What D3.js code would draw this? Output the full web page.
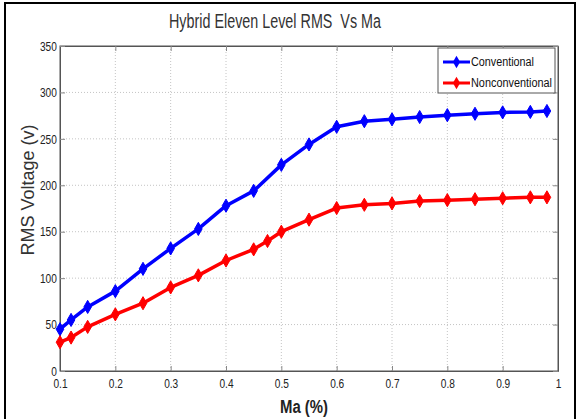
<!DOCTYPE html>
<html><head><meta charset="utf-8">
<script src="https://cdn.jsdelivr.net/npm/d3@7"></script>
<style>body{margin:0;background:#fff}svg{display:block}</style>
</head><body>
<script>
const maValues = [0.1,0.12,0.15,0.2,0.25,0.3,0.35,0.4,0.45,0.5,0.55,0.6,0.65,0.7,0.75,0.8,0.85,0.9,0.95,0.98];
const conventional = [45,55,69,86,110,132,153,178,194,222,244,263,269,271,273.5,275.5,277,278.5,279,280];
const maNonconv = [0.1,0.12,0.15,0.2,0.25,0.3,0.35,0.4,0.45,0.475,0.5,0.55,0.6,0.65,0.7,0.75,0.8,0.85,0.9,0.95,0.98];
const nonconventional = [31,36,47.5,61,73,90,103,119,131,140,150,163,175.5,179,180.5,183,184,185,186,187,187];
const xTicks = [0.1,0.2,0.3,0.4,0.5,0.6,0.7,0.8,0.9,1];
const yTicks = [0,50,100,150,200,250,300,350];
const seriesNames = ["Conventional","Nonconventional"];
const seriesColors = ["#0000ff","#ff0000"];

const W=580,H=419;
const svg=d3.select("body").append("svg").attr("width",W).attr("height",H);
const font="'Liberation Sans',Arial,sans-serif";
svg.append("rect").attr("x",5).attr("y",3).attr("width",570).attr("height",430)
  .attr("fill","#fff").attr("stroke","#000").attr("stroke-width",2);

const L=60,R=558,T=46,B=371;
const x=d3.scaleLinear().domain([0.1,1]).range([L,R]);
const y=d3.scaleLinear().domain([0,350]).range([B,T]);

const g=svg.append("g");
g.selectAll(".gx").data(xTicks.slice(1,-1)).join("line")
  .attr("x1",d=>x(d)).attr("x2",d=>x(d)).attr("y1",T).attr("y2",B)
  .attr("stroke","#c4c4c4").attr("stroke-width",1).attr("stroke-dasharray","1,2");
g.selectAll(".gy").data(yTicks.slice(1,-1)).join("line")
  .attr("y1",d=>y(d)).attr("y2",d=>y(d)).attr("x1",L).attr("x2",R)
  .attr("stroke","#c4c4c4").attr("stroke-width",1).attr("stroke-dasharray","1,2");

g.append("rect").attr("x",L).attr("y",T).attr("width",R-L).attr("height",B-T)
  .attr("fill","none").attr("stroke","#555").attr("stroke-width",1);

const xa=svg.append("g").attr("transform",`translate(0,${B})`)
  .call(d3.axisBottom(x).tickValues(xTicks).tickFormat(d=>d===1?"1":d3.format(".1f")(d)).tickSizeInner(-5).tickSizeOuter(0).tickPadding(8));
const xt=svg.append("g").attr("transform",`translate(0,${T})`)
  .call(d3.axisTop(x).tickValues(xTicks).tickSizeInner(-5).tickSizeOuter(0).tickFormat(""));
const ya=svg.append("g").attr("transform",`translate(${L},0)`)
  .call(d3.axisLeft(y).tickValues(yTicks).tickSizeInner(-5).tickSizeOuter(0).tickPadding(4));
const yr=svg.append("g").attr("transform",`translate(${R},0)`)
  .call(d3.axisRight(y).tickValues(yTicks).tickSizeInner(-5).tickSizeOuter(0).tickFormat(""));
[xa,xt,ya,yr].forEach(a=>{
  a.select(".domain").attr("stroke","#555");
  a.selectAll(".tick line").attr("stroke","#888");
  a.selectAll("text").attr("font-family",font).attr("font-size",13).attr("fill","#222")
    .attr("transform","scale(0.78,1)");
});

const sets=[[maValues,conventional],[maNonconv,nonconventional]];
sets.forEach(([xs,ys],i)=>{
  const pts=xs.map((v,j)=>[v,ys[j]]);
  svg.append("path").datum(pts)
    .attr("d",d3.line().x(d=>x(d[0])).y(d=>y(d[1])))
    .attr("fill","none").attr("stroke",seriesColors[i]).attr("stroke-width",3.5)
    .attr("stroke-linejoin","round");
  svg.selectAll(".m"+i).data(pts).join("path")
    .attr("transform",d=>`translate(${x(d[0])},${y(d[1])})`)
    .attr("d",d3.symbol(d3.symbolDiamond,50))
    .attr("fill",seriesColors[i]).attr("stroke",seriesColors[i]).attr("stroke-width",1);
});

svg.append("text").attr("x",275).attr("y",28).attr("text-anchor","middle")
  .attr("font-family",font).attr("font-size",20).attr("fill","#333")
  .style("white-space","pre")
  .attr("textLength",212).attr("lengthAdjust","spacingAndGlyphs")
  .text("Hybrid Eleven Level RMS  Vs Ma");
svg.append("text").attr("transform","translate(34,190) rotate(-90)").attr("text-anchor","middle")
  .attr("font-family",font).attr("font-size",18).attr("fill","#333")
  .text("RMS Voltage (v)");
svg.append("text").attr("x",304).attr("y",413).attr("text-anchor","middle")
  .attr("font-family",font).attr("font-weight","bold").attr("font-size",18).attr("fill","#222")
  .attr("textLength",48).attr("lengthAdjust","spacingAndGlyphs")
  .text("Ma (%)");

const lg=svg.append("g");
lg.append("rect").attr("x",438).attr("y",48).attr("width",117).attr("height",45)
  .attr("fill","#fff").attr("stroke","#555").attr("stroke-width",1);
const legW=[63,81];
seriesNames.forEach((n,i)=>{
  const yy=62+i*21;
  lg.append("line").attr("x1",443).attr("x2",470).attr("y1",yy).attr("y2",yy)
    .attr("stroke",seriesColors[i]).attr("stroke-width",3);
  lg.append("path").attr("transform",`translate(456.5,${yy})`).attr("d",d3.symbol(d3.symbolDiamond,45))
    .attr("fill",seriesColors[i]);
  lg.append("text").attr("x",471).attr("y",yy+4).attr("font-family",font).attr("font-size",12)
    .attr("fill","#111").attr("textLength",legW[i]).attr("lengthAdjust","spacingAndGlyphs").text(n);
});
</script>
</body></html>
